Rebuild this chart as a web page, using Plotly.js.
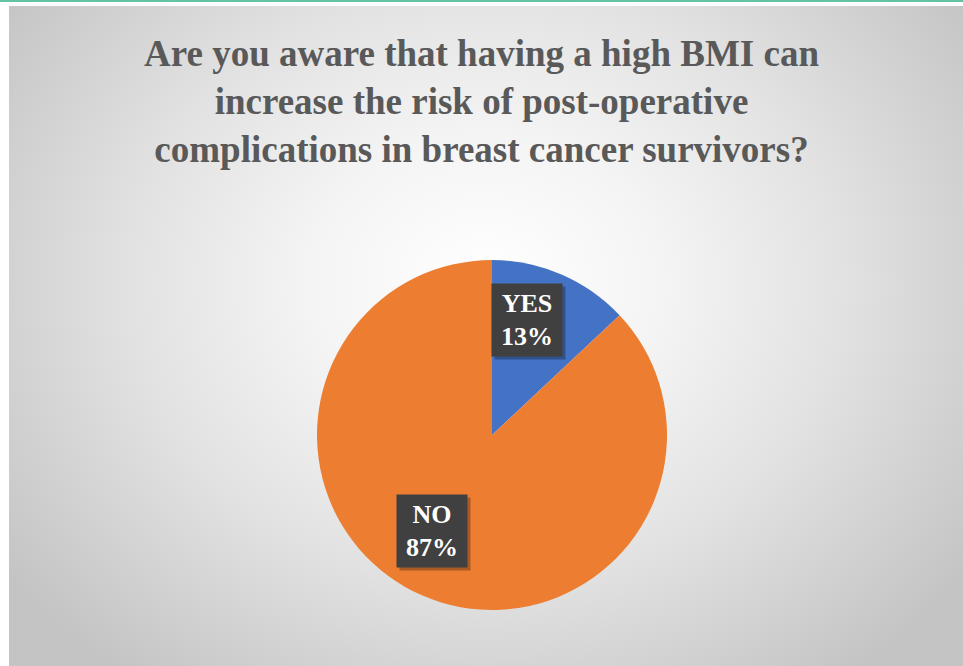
<!DOCTYPE html>
<html>
<head>
<meta charset="utf-8">
<script src="https://cdn.plot.ly/plotly-3.0.1.min.js"></script>
<style>
  html, body { margin: 0; padding: 0; width: 963px; height: 666px; overflow: hidden; background: #ffffff; }
  #topline { position: absolute; left: 0; top: 0; width: 963px; height: 2px; background: #66c3a2; }
  #bg { position: absolute; left: 9px; top: 6px; width: 954px; height: 660px;
        background: radial-gradient(ellipse 62% 75% at 50% 42%, #ffffff 0%, #f4f4f4 30%, #e2e2e2 60%, #c4c4c4 100%); }
  #chart { position: absolute; left: 0; top: 0; width: 963px; height: 666px; }
</style>
</head>
<body>
<div id="topline"></div>
<div id="bg"></div>
<div id="chart"></div>
<script>
const categories = ["YES", "NO"];
const values = [13, 87];
const colors = ["#4472C4", "#ED7D31"];
const titleText = "Are you aware that having a high BMI can<br>increase the risk of post-operative<br>complications in breast cancer survivors?";

const W = 963, H = 666;
const pieCx = 492, pieCy = 435, pieR = 175;
const domX = [(pieCx - pieR) / W, (pieCx + pieR) / W];
const domY = [(H - pieCy - pieR) / H, (H - pieCy + pieR) / H];

// label style offsets (pixels)
const labelFrac = 0.65;
const labelShift = [[-10, 11], [-15, 8]];

const total = values.reduce((a, b) => a + b, 0);
const annotations = [];
let cum = 0;
values.forEach((v, i) => {
  const mid = (cum + v / 2) / total * 2 * Math.PI;
  cum += v;
  const px = pieCx + labelFrac * pieR * Math.sin(mid);
  const py = pieCy - labelFrac * pieR * Math.cos(mid);
  const pct = Math.round(v / total * 100) + "%";
  const base = {
    xref: "paper", yref: "paper",
    x: px / W, y: (H - py) / H,
    xanchor: "center", yanchor: "middle",
    showarrow: false, align: "center",
    width: 68, height: 70,
  };
  // shadow
  annotations.push(Object.assign({}, base, {
    text: " ", bgcolor: "rgba(0,0,0,0.28)",
    xshift: labelShift[i][0] + 3, yshift: labelShift[i][1] - 3,
  }));
  annotations.push(Object.assign({}, base, {
    text: "<b>" + categories[i] + "<br>" + pct + "</b>",
    bgcolor: "#404040",
    font: { family: "Liberation Serif, Times New Roman, serif", size: 26, color: "#ffffff" },
    xshift: labelShift[i][0], yshift: labelShift[i][1],
  }));
});

const data = [{
  type: "pie",
  labels: categories,
  values: values,
  sort: false,
  direction: "clockwise",
  rotation: 0,
  marker: { colors: colors, line: { width: 0 } },
  textinfo: "none",
  hoverinfo: "label+percent",
  domain: { x: domX, y: domY },
  showlegend: false,
}];

const layout = {
  width: W, height: H,
  margin: { l: 0, r: 0, t: 0, b: 0 },
  paper_bgcolor: "rgba(0,0,0,0)",
  plot_bgcolor: "rgba(0,0,0,0)",
  showlegend: false,
  title: {
    text: "<b>" + titleText + "</b>",
    x: 0.5, xanchor: "center",
    y: 1 - 66 / H, yanchor: "middle",
    font: { family: "Liberation Serif, Times New Roman, serif", size: 37, color: "#595959" },
  },
  annotations: annotations,
};

Plotly.newPlot("chart", data, layout, { displayModeBar: false, staticPlot: true });
</script>
</body>
</html>
